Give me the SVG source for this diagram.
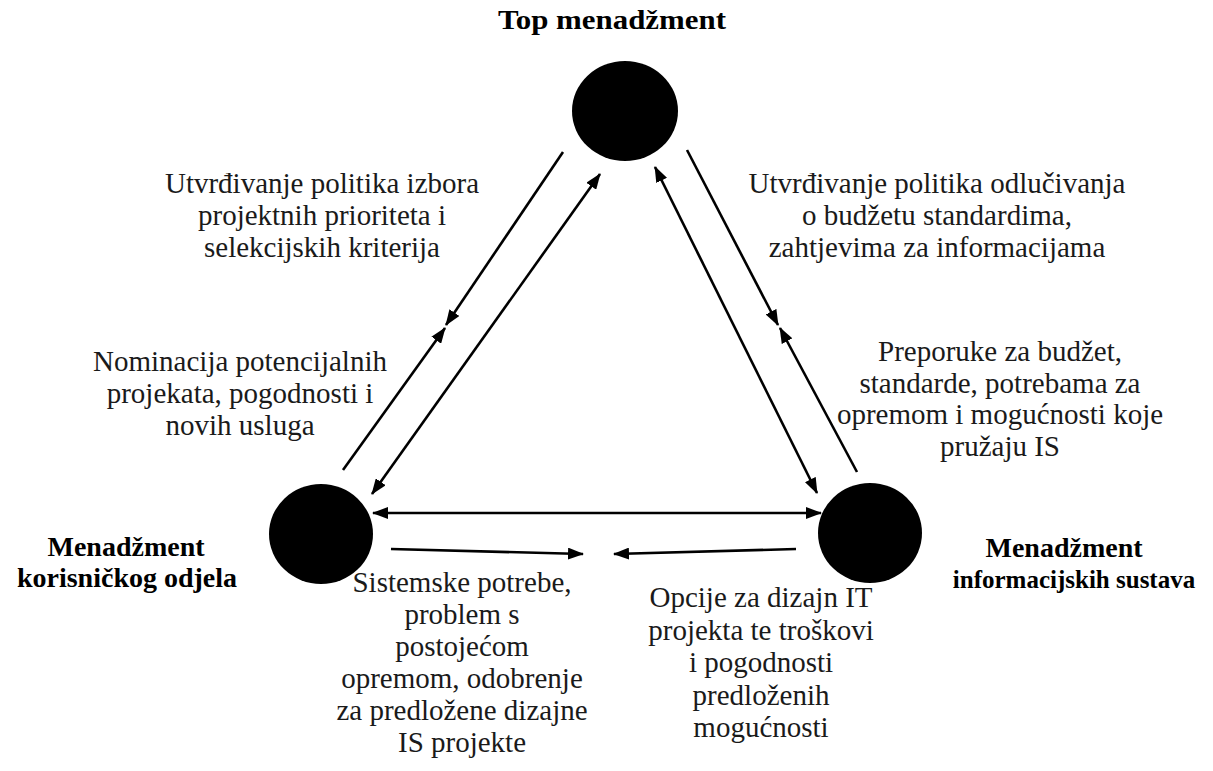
<svg xmlns="http://www.w3.org/2000/svg" width="1213" height="771" viewBox="0 0 1213 771">
<style>
.t{font-family:"Liberation Serif","Times New Roman",serif;font-size:29px;fill:#1a1a1a;text-anchor:middle}
.b{font-family:"Liberation Serif","Times New Roman",serif;font-size:28px;font-weight:bold;fill:#000;text-anchor:middle}
.c{stroke:#000;stroke-width:2.6;fill:none}
.n{fill:#000}
</style>
<defs>
<marker id="ah" viewBox="0 0 16 12" refX="15" refY="6" markerWidth="16" markerHeight="12" markerUnits="userSpaceOnUse" orient="auto-start-reverse">
<path d="M0,0 L16,6 L0,12 z" fill="#000"/>
</marker>
</defs>
<rect width="1213" height="771" fill="#fff"/>
<g id="top">
<ellipse class="n" cx="625" cy="111" rx="53" ry="50"/>
<text class="b" x="612" y="29" textLength="228" lengthAdjust="spacingAndGlyphs">Top menadžment</text>
</g>
<g id="left">
<ellipse class="n" cx="321" cy="534" rx="52" ry="50"/>
<text class="b" x="126" y="556">Menadžment</text>
<text class="b" x="127" y="587">korisničkog odjela</text>
</g>
<g id="right">
<ellipse class="n" cx="870" cy="533" rx="52" ry="50"/>
<text class="b" x="1064" y="557">Menadžment</text>
<text class="b" x="1074" y="588" style="font-size:25px">informacijskih sustava</text>
</g>
<g id="connectors">
<line class="c" x1="563" y1="152" x2="446" y2="325" marker-end="url(#ah)"/>
<line class="c" x1="343" y1="470" x2="445" y2="328" marker-end="url(#ah)"/>
<line class="c" x1="600" y1="174" x2="372" y2="494" marker-start="url(#ah)" marker-end="url(#ah)"/>
<line class="c" x1="687" y1="150" x2="778" y2="325" marker-end="url(#ah)"/>
<line class="c" x1="857" y1="472" x2="780" y2="328" marker-end="url(#ah)"/>
<line class="c" x1="655" y1="167" x2="817" y2="493" marker-start="url(#ah)" marker-end="url(#ah)"/>
<line class="c" x1="373" y1="513" x2="821" y2="513" marker-start="url(#ah)" marker-end="url(#ah)"/>
<line class="c" x1="391" y1="549" x2="583" y2="554" marker-end="url(#ah)"/>
<line class="c" x1="796" y1="549" x2="614" y2="554" marker-end="url(#ah)"/>
</g>
<g id="labels">
<text class="t" x="322" y="193">Utvrđivanje politika izbora</text>
<text class="t" x="322" y="225">projektnih prioriteta i</text>
<text class="t" x="322" y="257">selekcijskih kriterija</text>
<text class="t" x="937" y="193">Utvrđivanje politika odlučivanja</text>
<text class="t" x="937" y="225">o budžetu standardima,</text>
<text class="t" x="937" y="257">zahtjevima za informacijama</text>
<text class="t" x="240" y="371">Nominacija potencijalnih</text>
<text class="t" x="240" y="403">projekata, pogodnosti i</text>
<text class="t" x="240" y="435">novih usluga</text>
<text class="t" x="1000" y="361">Preporuke za budžet,</text>
<text class="t" x="1000" y="393">standarde, potrebama za</text>
<text class="t" x="1000" y="424">opremom i mogućnosti koje</text>
<text class="t" x="1000" y="456">pružaju IS</text>
<text class="t" x="462" y="592">Sistemske potrebe,</text>
<text class="t" x="462" y="624">problem s</text>
<text class="t" x="462" y="656">postojećom</text>
<text class="t" x="462" y="688">opremom, odobrenje</text>
<text class="t" x="462" y="720">za predložene dizajne</text>
<text class="t" x="462" y="752">IS projekte</text>
<text class="t" x="761" y="607">Opcije za dizajn IT</text>
<text class="t" x="761" y="640">projekta te troškovi</text>
<text class="t" x="761" y="672">i pogodnosti</text>
<text class="t" x="761" y="705">predloženih</text>
<text class="t" x="761" y="737">mogućnosti</text>
</g>
</svg>
